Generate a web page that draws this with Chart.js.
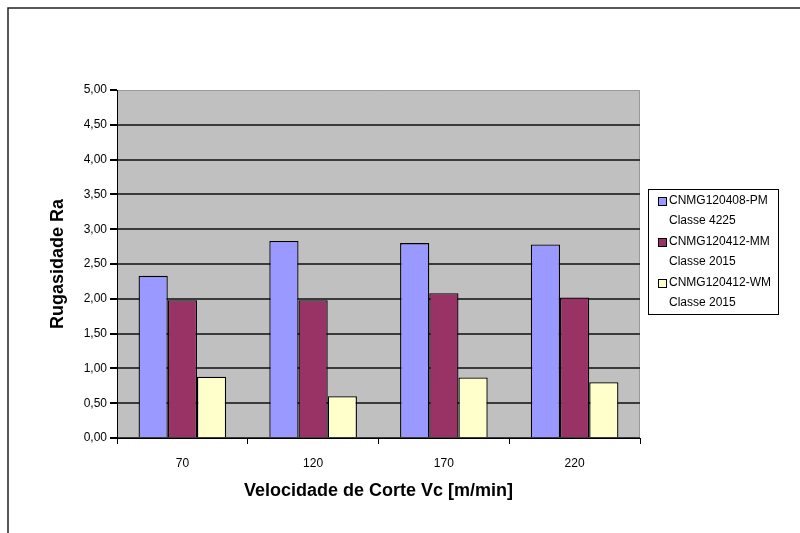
<!DOCTYPE html>
<html>
<head>
<meta charset="utf-8">
<script src="https://cdn.jsdelivr.net/npm/chart.js@4/dist/chart.umd.min.js"></script>
<style>
  html, body { margin: 0; padding: 0; background: #fff; }
  #wrap { width: 800px; height: 533px; position: relative; }
</style>
</head>
<body>
<div id="wrap"><canvas id="chart" width="800" height="533"></canvas></div>
<script>
// dados
const velocidades = ['70', '120', '170', '220'];
const pm4225 = [2.33, 2.83, 2.80, 2.78];
const mm2015 = [1.98, 1.98, 2.08, 2.02];
const wm2015 = [0.88, 0.60, 0.87, 0.80];
const seriesNames = [
  ['CNMG120408-PM', 'Classe 4225'],
  ['CNMG120412-MM', 'Classe 2015'],
  ['CNMG120412-WM', 'Classe 2015'],
];
const seriesColors = ['#9999ff', '#993366', '#ffffcc'];

Chart.defaults.font.family = 'Arial, "Liberation Sans", sans-serif';
Chart.defaults.color = '#000';

// fundo branco, moldura externa e área do gráfico cinza
const background = {
  id: 'background',
  beforeDraw(chart) {
    const { ctx, chartArea } = chart;
    ctx.save();
    ctx.fillStyle = '#fff';
    ctx.fillRect(0, 0, chart.width, chart.height);
    ctx.strokeStyle = '#222';
    ctx.lineWidth = 1.5;
    ctx.strokeRect(8, 8, 1000, 1000);
    ctx.fillStyle = '#c0c0c0';
    ctx.fillRect(chartArea.left, chartArea.top, chartArea.right - chartArea.left, chartArea.bottom - chartArea.top);
    ctx.strokeStyle = '#999';
    ctx.lineWidth = 1;
    ctx.beginPath();
    ctx.moveTo(chartArea.left, chartArea.top + 0.5);
    ctx.lineTo(chartArea.right - 0.5, chartArea.top + 0.5);
    ctx.lineTo(chartArea.right - 0.5, chartArea.bottom);
    ctx.stroke();
    ctx.restore();
  },
};

// legenda com duas linhas por série
const boxLegend = {
  id: 'boxLegend',
  afterDraw(chart) {
    const { ctx } = chart;
    const x = 648, y = 189, w = 130, h = 125;
    ctx.save();
    ctx.fillStyle = '#fff';
    ctx.fillRect(x, y, w, h);
    ctx.strokeStyle = '#000';
    ctx.lineWidth = 1;
    ctx.strokeRect(x + 0.5, y + 0.5, w, h);
    ctx.font = '12px Arial, "Liberation Sans", sans-serif';
    ctx.textBaseline = 'middle';
    chart.data.datasets.forEach((ds, i) => {
      const lines = seriesNames[i];
      const ly = y + 12 + i * 41;
      ctx.fillStyle = ds.backgroundColor;
      ctx.fillRect(x + 10, ly - 4, 8, 8);
      ctx.strokeStyle = '#000';
      ctx.strokeRect(x + 10.5, ly - 3.5, 8, 8);
      ctx.fillStyle = '#000';
      ctx.fillText(lines[0], x + 21, ly);
      ctx.fillText(lines[1], x + 21, ly + 20);
    });
    ctx.restore();
  },
};

const ctx = document.getElementById('chart').getContext('2d');

new Chart(ctx, {
  type: 'bar',
  data: {
    labels: velocidades,
    datasets: [pm4225, mm2015, wm2015].map((values, i) => ({
      label: seriesNames[i].join(' '),
      data: values,
      backgroundColor: seriesColors[i],
      borderColor: '#000',
      borderWidth: 1.3,
      categoryPercentage: 0.67,
      barPercentage: 1.0,
    })),
  },
  options: {
    responsive: false,
    animation: false,
    layout: { padding: { top: 90, right: 160, left: 0, bottom: 0 } },
    plugins: {
      legend: { display: false },
      tooltip: { enabled: false },
    },
    scales: {
      x: {
        afterFit: (scale) => { scale.height = 95; },
        grid: { drawOnChartArea: false, offset: true, tickLength: 6, tickColor: '#000' },
        border: { color: '#000', width: 1 },
        ticks: { padding: 12, font: { size: 12 } },
        title: {
          display: true,
          text: 'Velocidade de Corte Vc [m/min]',
          font: { size: 18, weight: 'bold' },
          padding: { top: 0, bottom: 31 },
        },
      },
      y: {
        min: 0,
        max: 5,
        afterFit: (scale) => { scale.width = 117; },
        grid: {
          color: (c) => (c.tick && c.tick.value === 5 ? 'rgba(0,0,0,0)' : '#3a3a3a'),
          lineWidth: 2,
          tickLength: 7,
          tickColor: '#000',
        },
        border: { color: '#000', width: 1 },
        ticks: {
          stepSize: 0.5,
          padding: 3,
          font: { size: 12 },
          callback: (v) => v.toFixed(2).replace('.', ','),
        },
        title: {
          display: true,
          text: 'Rugasidade Ra',
          font: { size: 18, weight: 'bold' },
          padding: { top: 47, bottom: 0 },
        },
      },
    },
  },
  plugins: [background, boxLegend],
});
</script>
</body>
</html>
